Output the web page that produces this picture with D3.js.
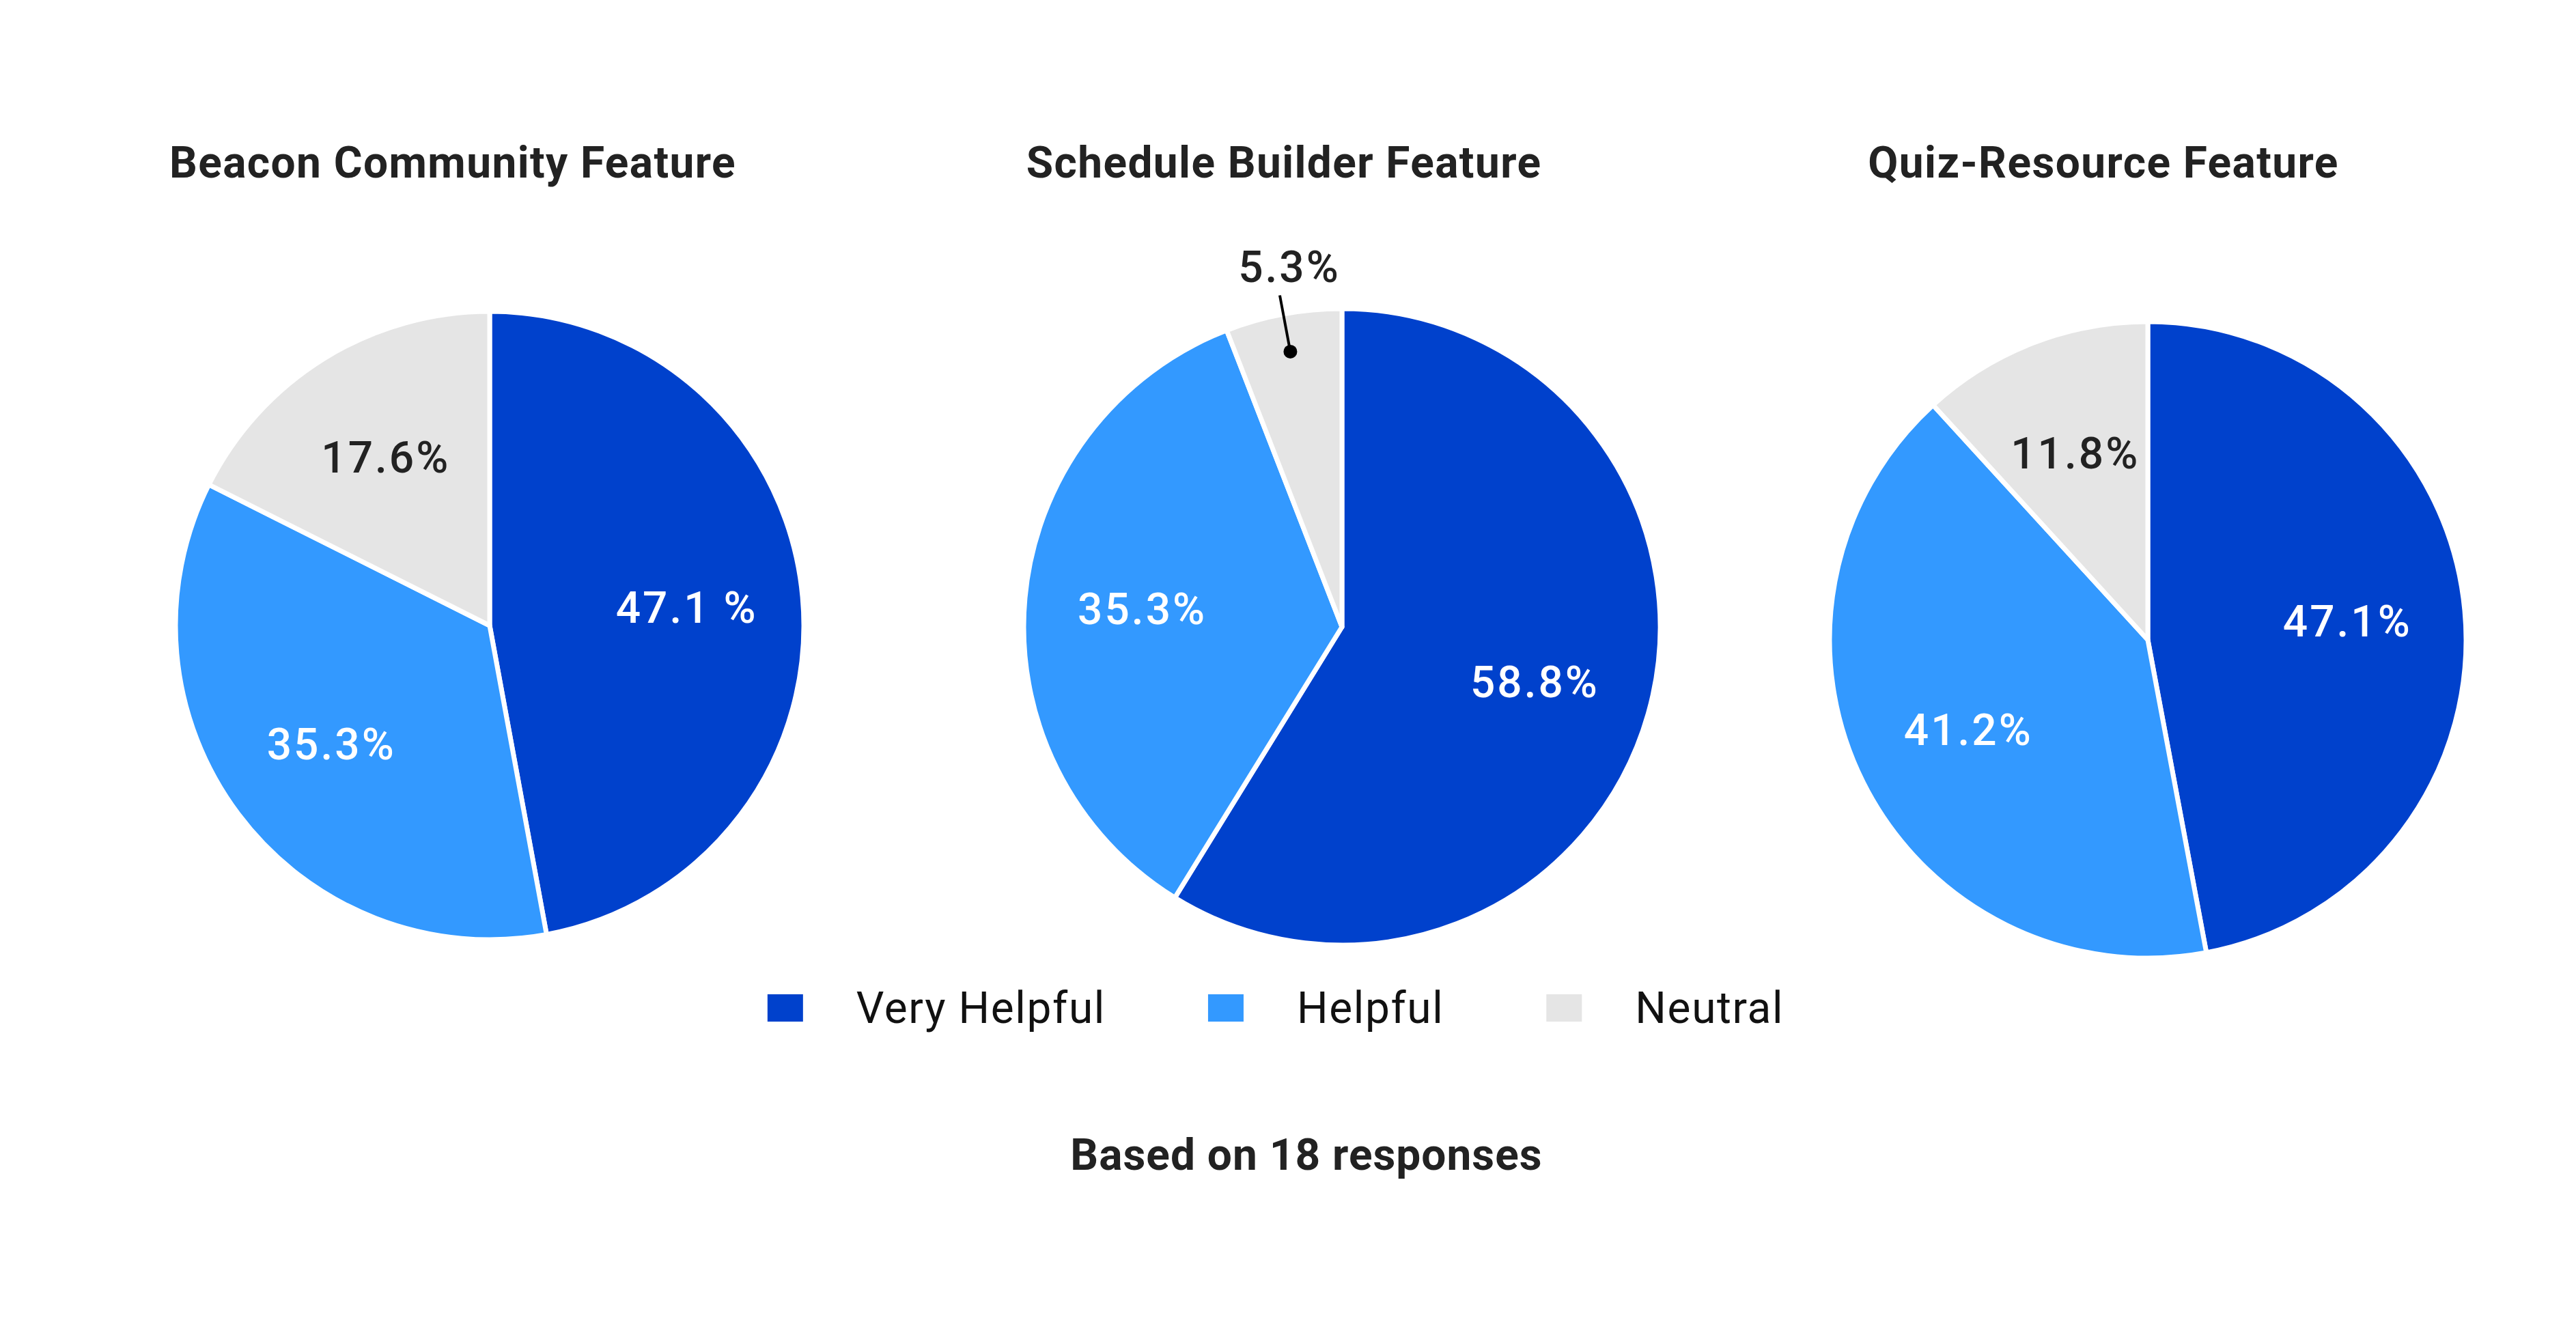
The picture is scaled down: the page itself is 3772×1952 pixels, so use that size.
<!DOCTYPE html>
<html>
<head>
<meta charset="utf-8">
<script src="https://cdn.jsdelivr.net/npm/d3@7"></script>
<style>
  html, body { margin: 0; padding: 0; background: #fff; }
  svg { display: block; font-family: Roboto, "Noto Sans", sans-serif; }
</style>
</head>
<body>
<div id="chart"></div>
<script>
"use strict";

// response shares per feature, in category order
const categories = ["Very Helpful", "Helpful", "Neutral"];
const features = ["Beacon Community Feature", "Schedule Builder Feature", "Quiz-Resource Feature"];
const beaconValues = [47.1, 35.3, 17.6];
const scheduleValues = [58.8, 35.3, 5.9];
const quizValues = [47.1, 41.2, 11.8];
const beaconLabels = ["47.1 %", "35.3%", "17.6%"];
const scheduleLabels = ["58.8%", "35.3%", "5.3%"];
const quizLabels = ["47.1%", "41.2%", "11.8%"];
const colors = ["#0041cc", "#3399ff", "#e5e5e5"];
const footnote = "Based on 18 responses";

const W = 3772, H = 1952;
const panels = [
  { cx: 717, cy: 916, r: 460, titleX: 663, values: beaconValues, labels: beaconLabels },
  { cx: 1965, cy: 918, r: 466, titleX: 1880, values: scheduleValues, labels: scheduleLabels },
  { cx: 3145, cy: 937, r: 466, titleX: 3080, values: quizValues, labels: quizLabels }
];

const color = d3.scaleOrdinal().domain(categories).range(colors);
const textDark = "#222222";

const svg = d3.select("#chart")
              .append("svg")
              .attr("width", W)
              .attr("height", H);

svg.append("rect")
   .attr("width", W)
   .attr("height", H)
   .attr("fill", "#fff");

const pie = d3.pie().sort(null).value(d => d.value);

panels.forEach((p, i) => {
  const g = svg.append("g").attr("transform", `translate(${p.cx},${p.cy})`);

  svg.append("text")
     .attr("x", p.titleX)
     .attr("y", 260)
     .attr("text-anchor", "middle")
     .attr("font-size", 64)
     .attr("font-weight", 700)
     .attr("letter-spacing", 1.4)
     .attr("fill", textDark)
     .text(features[i]);

  const rows = categories.map((c, k) => ({ cat: c, value: p.values[k], label: p.labels[k] }));
  const arcs = pie(rows);
  const arc = d3.arc().innerRadius(0).outerRadius(p.r);
  const labelArc = d3.arc().innerRadius(0).outerRadius(p.r * 1.26);
  const dotArc = d3.arc().innerRadius(p.r * 0.88).outerRadius(p.r * 0.88);
  const tipArc = d3.arc().innerRadius(p.r * 1.06).outerRadius(p.r * 1.06);

  g.selectAll("path")
   .data(arcs)
   .enter()
   .append("path")
   .attr("d", arc)
   .attr("fill", d => color(d.data.cat))
   .attr("stroke", "#fff")
   .attr("stroke-width", 7)
   .attr("stroke-linejoin", "round");

  const inside = arcs.filter(d => d.data.value >= 8);
  const outside = arcs.filter(d => d.data.value < 8);

  g.selectAll("text.inside")
   .data(inside)
   .enter()
   .append("text")
   .classed("inside", true)
   .attr("transform", d => `translate(${labelArc.centroid(d)})`)
   .attr("text-anchor", "middle")
   .attr("dy", "0.35em")
   .attr("font-size", 64)
   .attr("font-weight", 500)
   .attr("letter-spacing", 3)
   .attr("fill", d => d.data.cat === "Neutral" ? textDark : "#fff")
   .text(d => d.data.label);

  outside.forEach(d => {
    const a = dotArc.centroid(d);
    const b = tipArc.centroid(d);
    g.append("line")
     .attr("x1", a[0]).attr("y1", a[1])
     .attr("x2", b[0]).attr("y2", b[1])
     .attr("stroke", "#000")
     .attr("stroke-width", 4);
    g.append("circle")
     .attr("cx", a[0]).attr("cy", a[1])
     .attr("r", 10)
     .attr("fill", "#000");
    g.append("text")
     .attr("x", b[0] + 14)
     .attr("y", b[1] - 20)
     .attr("text-anchor", "middle")
     .attr("font-size", 64)
     .attr("font-weight", 500)
     .attr("letter-spacing", 3)
     .attr("fill", textDark)
     .text(d.data.label);
  });
});

// legend, centred under the middle pie
const legend = svg.append("g");
const items = legend.selectAll("g")
                    .data(categories)
                    .enter()
                    .append("g");

items.append("rect")
     .attr("y", 1456)
     .attr("width", 52)
     .attr("height", 40)
     .attr("fill", d => color(d));

items.append("text")
     .attr("x", 130)
     .attr("y", 1476)
     .attr("dy", "0.35em")
     .attr("font-size", 64)
     .attr("font-weight", 400)
     .attr("letter-spacing", 1.6)
     .attr("fill", "#111")
     .text(d => d);

let cursor = 0;
items.each(function() {
  const w = d3.select(this).select("text").node().getComputedTextLength();
  d3.select(this).attr("transform", `translate(${cursor},0)`);
  cursor += 130 + w + 150;
});
const legendWidth = cursor - 150;
legend.attr("transform", `translate(${1868 - legendWidth / 2},0)`);

svg.append("text")
   .attr("x", 1913)
   .attr("y", 1713)
   .attr("text-anchor", "middle")
   .attr("font-size", 64)
   .attr("font-weight", 700)
   .attr("letter-spacing", 1)
   .attr("fill", textDark)
   .text(footnote);
</script>
</body>
</html>
